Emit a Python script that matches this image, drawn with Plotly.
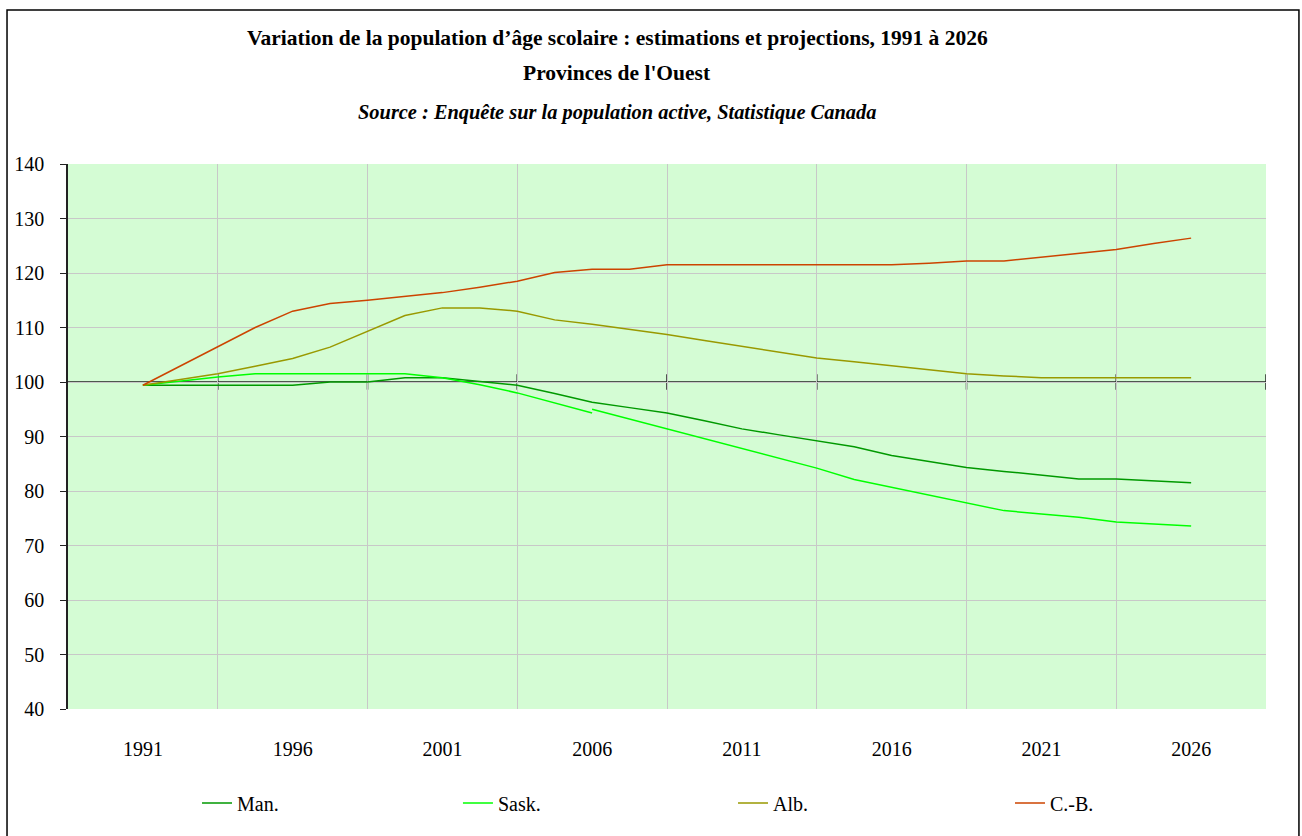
import plotly.graph_objects as go

# x positions: point index (29 points), labelled every 4th point
points = list(range(29))
tick_idx = [0, 4, 8, 12, 16, 20, 24, 28]
tick_labels = ["1991", "1996", "2001", "2006", "2011", "2016", "2021", "2026"]
grid_idx = [-2, 2, 6, 10, 14, 18, 22, 26, 30]

man = [99.4, 99.4, 99.4, 99.4, 99.4, 100.0, 100.0, 100.8, 100.8, 100.1,
       99.4, 97.9, 96.3, 95.3, 94.3, 92.9, 91.4, 90.3, 89.2, 88.1,
       86.5, 85.4, 84.3, 83.6, 82.9, 82.2, 82.2, 81.8, 81.5]
sask_est = [99.4, 100.2, 100.9, 101.5, 101.5, 101.5, 101.5, 101.5, 100.8, 99.5,
            98.0, 96.2, 94.3]
sask_proj = [95.0, 93.2, 91.4, 89.6, 87.8, 86.0, 84.2, 82.1, 80.7, 79.3,
             77.9, 76.4, 75.8, 75.2, 74.3, 74.0, 73.6]
alb = [99.4, 100.4, 101.5, 102.9, 104.3, 106.4, 109.3, 112.2, 113.6, 113.6,
       113.0, 111.4, 110.6, 109.7, 108.7, 107.6, 106.5, 105.5, 104.4, 103.7,
       103.0, 102.2, 101.5, 101.1, 100.8, 100.8, 100.8, 100.8, 100.8]
cb = [99.4, 102.9, 106.5, 110.0, 113.0, 114.4, 115.0, 115.7, 116.4, 117.4,
      118.5, 120.1, 120.7, 120.7, 121.5, 121.5, 121.5, 121.5, 121.5, 121.5,
      121.5, 121.8, 122.2, 122.2, 122.9, 123.6, 124.3, 125.4, 126.4]

names = ["Man.", "Sask.", "Alb.", "C.-B."]
colors = ["#009900", "#00FF00", "#999900", "#CC4400"]
legend_ids = ["legend", "legend2", "legend3", "legend4"]
legend_x = [0.1077, 0.3255, 0.5551, 0.7863]

FONT = "Palatino Linotype, Book Antiqua, Palatino, Liberation Serif, serif"

fig = go.Figure()
fig.add_trace(go.Scatter(x=points, y=man, mode="lines", name=names[0], legend=legend_ids[0],
                         line=dict(color=colors[0], width=1.5)))
fig.add_trace(go.Scatter(x=points[:len(sask_est)], y=sask_est, mode="lines", name=names[1],
                         legend=legend_ids[1], legendgroup="sask",
                         line=dict(color=colors[1], width=1.5)))
fig.add_trace(go.Scatter(x=points[len(sask_est) - 1:], y=sask_proj, mode="lines", name=names[1],
                         legend=legend_ids[1], legendgroup="sask", showlegend=False,
                         line=dict(color=colors[1], width=1.5)))
fig.add_trace(go.Scatter(x=points, y=alb, mode="lines", name=names[2], legend=legend_ids[2],
                         line=dict(color=colors[2], width=1.5)))
fig.add_trace(go.Scatter(x=points, y=cb, mode="lines", name=names[3], legend=legend_ids[3],
                         line=dict(color=colors[3], width=1.5)))

shapes = []
# horizontal axis crossing at 100
shapes.append(dict(type="line", xref="x", yref="y", x0=grid_idx[0], x1=grid_idx[-1],
                   y0=100, y1=100, line=dict(color="#222222", width=1.5), layer="below"))
for g in grid_idx[1:]:
    shapes.append(dict(type="line", xref="x", yref="y", x0=g, x1=g, y0=98.6, y1=101.4,
                       line=dict(color="#222222", width=1.5), layer="below"))
# outer frame
shapes.append(dict(type="rect", xref="paper", yref="paper", x0=-0.0509, x1=1.0275,
                   y0=-0.27, y1=1.2826, line=dict(color="black", width=1.5)))

ann = [
    dict(text="<b>Variation de la population d’âge scolaire : estimations et projections, 1991 à 2026</b>",
         x=0.4583, y=1.2312, font=dict(size=21.5)),
    dict(text="<b>Provinces de l'Ouest</b>", x=0.4583, y=1.1670, font=dict(size=21.5)),
    dict(text="<b><i>Source : Enquête sur la population active, Statistique Canada</i></b>",
         x=0.4583, y=1.0936, font=dict(size=20.4)),
]
for a in ann:
    a.update(xref="paper", yref="paper", showarrow=False, xanchor="center", yanchor="middle")

legends = {}
for lid, lx in zip(legend_ids, legend_x):
    legends[lid] = dict(orientation="h", x=lx, y=-0.1725, xanchor="left", yanchor="middle",
                        font=dict(size=20), bgcolor="rgba(0,0,0,0)")

fig.update_layout(
    width=1302, height=836,
    margin=dict(l=68, r=36, t=164, b=127),
    paper_bgcolor="white",
    plot_bgcolor="#D4FCD4",
    font=dict(family=FONT, size=20, color="black"),
    shapes=shapes,
    annotations=ann,
    showlegend=True,
    xaxis=dict(range=[grid_idx[0], grid_idx[-1]], tickmode="array", tickvals=tick_idx,
               ticktext=tick_labels, showgrid=False, zeroline=False, ticks="",
               ticklabelstandoff=26, showline=False,
               minor=dict(tickmode="array", tickvals=grid_idx, showgrid=True,
                          gridcolor="#C8C8C8", gridwidth=1, ticks="")),
    yaxis=dict(range=[40, 140], dtick=10, tick0=40, showgrid=True, gridcolor="#C8C8C8",
               gridwidth=1, zeroline=False, showline=True, linecolor="#222222", linewidth=1.5,
               ticks="outside", ticklen=6, tickcolor="#222222", ticklabelstandoff=12),
    **legends,
)

fig.write_html("out.html", config={"displayModeBar": False},
               post_script="document.body.style.margin='0';")
